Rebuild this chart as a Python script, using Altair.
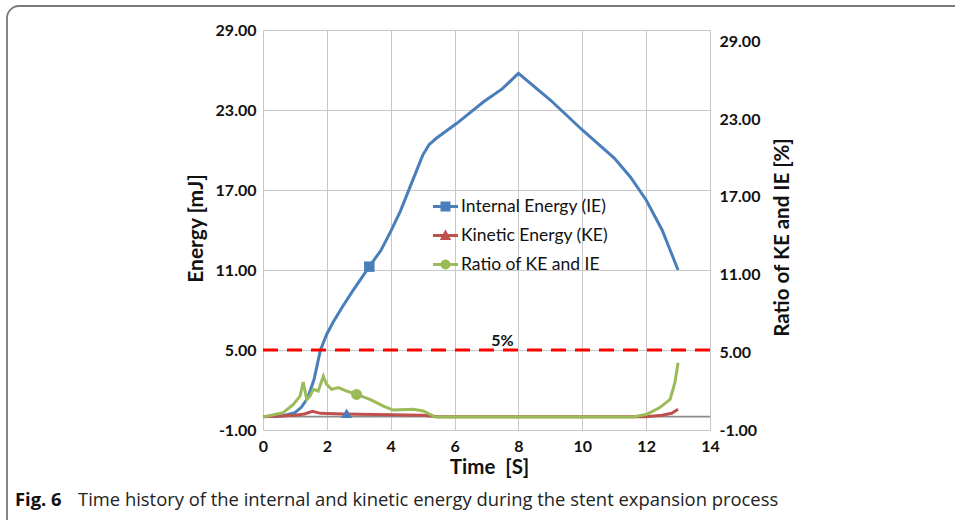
import altair as alt
import pandas as pd

# ---------------- data ----------------
series_names = ["Internal Energy (IE)", "Kinetic Energy (KE)", "Ratio of KE and IE"]
series_colors = ["#4A7EBB", "#C0504D", "#9BBB59"]

# Internal energy [mJ] (left axis)
ie_t = [0.3, 0.6, 1.0, 1.2, 1.4, 1.6, 1.8, 2.0, 2.2, 2.45, 2.8, 3.33, 3.7, 4.0, 4.3, 4.6,
        5.0, 5.2, 5.44, 6.07, 6.9, 7.5, 8.0, 9.0, 10.0, 11.0, 11.5, 12.0, 12.5, 13.0]
ie_v = [0.0, 0.05, 0.3, 0.7, 1.4, 2.8, 5.0, 6.2, 7.1, 8.1, 9.4, 11.25, 12.5, 13.9, 15.4, 17.2,
        19.6, 20.4, 20.9, 22.0, 23.6, 24.6, 25.75, 23.75, 21.5, 19.4, 18.0, 16.25, 14.0, 11.0]

# Kinetic energy [mJ] (left axis)
ke_t = [0.0, 0.5, 1.0, 1.3, 1.55, 1.8, 2.5, 4.0, 5.0, 5.5, 12.0, 12.5, 12.8, 13.0]
ke_v = [0.0, 0.05, 0.1, 0.2, 0.4, 0.25, 0.2, 0.15, 0.1, 0.0, 0.0, 0.1, 0.25, 0.55]

# Ratio of KE and IE [%] (right axis)
r_t = [0.0, 0.63, 0.95, 1.16, 1.26, 1.37, 1.47, 1.58, 1.73, 1.89, 1.99, 2.15, 2.36, 2.62,
       2.93, 3.35, 3.77, 4.08, 4.7, 5.02, 5.39, 11.6, 12.02, 12.43, 12.75, 12.9, 13.0]
r_v = [0.0, 0.34, 0.98, 1.62, 2.7, 1.37, 1.62, 2.14, 2.01, 3.16, 2.52, 2.14, 2.27, 2.01,
       1.75, 1.37, 0.85, 0.54, 0.6, 0.47, 0.0, 0.0, 0.21, 0.73, 1.37, 2.65, 4.2]

# single markers drawn on each series
marker_t = [3.33, 2.62, 2.93]
marker_v = [11.25, 0.25, 1.75]

threshold = [5]
threshold_label = ["5%"]
threshold_label_t = [7.5]
threshold_label_v = [5.7]
zero_line = [0]

x_ticks = [0, 2, 4, 6, 8, 10, 12, 14]
y_ticks = [-1, 5, 11, 17, 23, 29]
left_domain = [-1, 29]
right_domain = [-1, 29.9]

x_title = "Time\u00a0\u00a0[S]"
left_title = "Energy [mJ]"
right_title = "Ratio of KE and IE [%]"
caption_bold = "Fig. 6"
caption_text = "Time history of the internal and kinetic energy during the stent expansion process"

# ---------------- frames ----------------
ie_df = pd.DataFrame({"t": ie_t, "v": ie_v})
ke_df = pd.DataFrame({"t": ke_t, "v": ke_v})
r_df = pd.DataFrame({"t": r_t, "v": r_v})
mk_df = pd.DataFrame({"t": marker_t, "v": marker_v, "series": series_names})
thr_df = pd.DataFrame({"v": threshold})
thr_lab_df = pd.DataFrame({"t": threshold_label_t, "v": threshold_label_v, "txt": threshold_label})
zero_df = pd.DataFrame({"v": zero_line})
one_df = pd.DataFrame({"a": [0]})

FONT = "Lato"
W, H = 447, 400
TXT = "#111"
Y_LABEL_EXPR = "datum.value < 0 ? '-' + format(-datum.value, '.2f') : format(datum.value, '.2f')"

x_enc = alt.X(
    "t:Q",
    scale=alt.Scale(domain=[0, 14], nice=False, zero=False),
    axis=alt.Axis(
        values=x_ticks, title=x_title, grid=True, gridColor="#C8C8C8", gridWidth=1,
        domain=False, ticks=False, labelPadding=8, labelFont=FONT, labelFontSize=16,
        labelFontWeight="bold", labelColor=TXT, titleFont=FONT, titleFontSize=20.5,
        titleFontWeight="bold", titleColor=TXT, titleX=226, titleY=37,
        titleAlign="center", titleBaseline="middle", labelFlush=False,
    ),
)


def y_left(axis=True):
    return alt.Y(
        "v:Q",
        scale=alt.Scale(domain=left_domain, nice=False, zero=False),
        axis=alt.Axis(
            values=y_ticks, labelExpr=Y_LABEL_EXPR, title=left_title, grid=True,
            gridColor="#C8C8C8", gridWidth=1, domain=False, ticks=False, labelPadding=7,
            labelFont=FONT, labelFontSize=16, labelFontWeight="bold", labelColor=TXT,
            titleFont=FONT, titleFontSize=21, titleFontWeight="bold", titleColor=TXT,
            titleAngle=270, titleX=-67, titleY=198, titleAlign="center",
            titleBaseline="middle", labelFlush=False,
        ) if axis else None,
    )


y_right = alt.Y(
    "v:Q",
    scale=alt.Scale(domain=right_domain, nice=False, zero=False),
    axis=alt.Axis(
        orient="right", values=y_ticks, labelExpr=Y_LABEL_EXPR, title=right_title,
        grid=False, domain=False, ticks=False, labelPadding=9, labelFont=FONT,
        labelFontSize=16, labelFontWeight="bold", labelColor=TXT, titleFont=FONT,
        titleFontSize=20.5, titleFontWeight="bold", titleColor=TXT, titleAngle=270,
        titleX=72, titleY=207, titleAlign="center", titleBaseline="middle",
        labelFlush=False,
    ),
)
y_right_noaxis = alt.Y("v:Q", scale=alt.Scale(domain=right_domain, nice=False, zero=False), axis=None)

ie_line = alt.Chart(ie_df).mark_line(strokeWidth=3, color=series_colors[0]).encode(
    x=x_enc, y=y_left(True), order="t:Q")

zero_rule = alt.Chart(zero_df).mark_rule(color="#8C8C8C", strokeWidth=1.6).encode(y=y_left(False))

thr_rule = alt.Chart(thr_df).mark_rule(color="#FF0000", strokeWidth=3.2, strokeDash=[15, 9]).encode(
    y=y_left(False))

thr_text = alt.Chart(thr_lab_df).mark_text(
    font=FONT, fontSize=16, fontWeight="bold", color=TXT).encode(
    x=x_enc, y=y_left(False), text="txt:N")

ke_line = alt.Chart(ke_df).mark_line(strokeWidth=3, color=series_colors[1]).encode(
    x=x_enc, y=y_left(False), order="t:Q")

r_line = alt.Chart(r_df).mark_line(strokeWidth=3, color=series_colors[2]).encode(
    x=x_enc, y=y_right, order="t:Q")

mk_ie = alt.Chart(mk_df).transform_filter(alt.datum.series == series_names[0]).mark_point(
    shape="square", filled=True, size=110, opacity=1, color=series_colors[0]).encode(
    x=x_enc, y=y_left(False))
mk_ke = alt.Chart(mk_df).transform_filter(alt.datum.series == series_names[1]).mark_point(
    shape="triangle-up", filled=True, size=120, opacity=1, color=series_colors[0]).encode(
    x=x_enc, y=y_left(False))
mk_r = alt.Chart(mk_df).transform_filter(alt.datum.series == series_names[2]).mark_point(
    shape="circle", filled=True, size=120, opacity=1, color=series_colors[2]).encode(
    x=x_enc, y=y_right_noaxis)

# legend symbols: line + marker
sym_square = "M-1,-0.12H-0.4V-0.4H0.4V-0.12H1V0.12H0.4V0.4H-0.4V0.12H-1Z"
sym_tri = "M-1,-0.12H-0.2L0,-0.5L0.2,-0.12H1V0.12H0.33L0.45,0.35H-0.45L-0.33,0.12H-1Z"
sym_circ = ("M-1,-0.12H-0.38A0.4,0.4 0 0 1 0.38,-0.12H1V0.12H0.38"
            "A0.4,0.4 0 0 1 -0.38,0.12H-1Z")

leg = alt.Legend(
    title=None, orient="none", legendX=170, legendY=164, symbolSize=625,
    symbolStrokeWidth=0, symbolOpacity=1, rowPadding=8, labelOffset=3,
    labelFont=FONT, labelFontSize=17.5, labelColor=TXT, labelLimit=300, padding=0,
)
legend_layer = alt.Chart(mk_df).transform_filter("false").mark_point(
    filled=True, opacity=1).encode(
    x=x_enc,
    y=y_left(False),
    color=alt.Color("series:N", scale=alt.Scale(domain=series_names, range=series_colors), legend=leg),
    shape=alt.Shape("series:N", scale=alt.Scale(domain=series_names, range=[sym_square, sym_tri, sym_circ]), legend=leg),
)

cap1 = alt.Chart(one_df).mark_text(
    text=caption_bold, font="Open Sans", fontSize=18.4, fontWeight="bold", color="#111",
    align="left", baseline="alphabetic").encode(x=alt.value(15 - 263), y=alt.value(506 - 30))
cap2 = alt.Chart(one_df).mark_text(
    text=caption_text, font="Open Sans", fontSize=18.4, color="#222",
    align="left", baseline="alphabetic").encode(x=alt.value(78 - 263), y=alt.value(506 - 30))

frame = alt.Chart(one_df).mark_rect(
    fillOpacity=0, stroke="#7A7A7A", strokeWidth=1.8, cornerRadius=12).encode(
    x=alt.value(7 - 263), x2=alt.value(990 - 263), y=alt.value(6 - 30), y2=alt.value(530 - 30))

chart = alt.layer(
    frame, zero_rule, ie_line, thr_rule, thr_text, ke_line, r_line, mk_ie, mk_ke, mk_r,
    legend_layer, cap1, cap2,
).resolve_scale(y="independent").properties(
    width=W, height=H,
    autosize=alt.AutoSizeParams(type="none"),
    padding={"left": 263, "top": 30, "right": 955 - 263 - W, "bottom": 520 - 30 - H},
).configure_view(stroke="black", strokeWidth=2.5).configure(background="white")

chart.save("out.html", embed_options={"renderer": "svg", "actions": False})
